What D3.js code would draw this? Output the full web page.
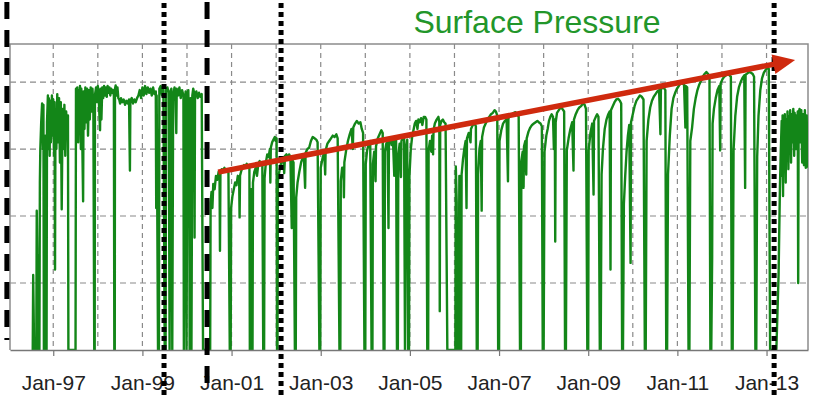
<!DOCTYPE html>
<html>
<head>
<meta charset="utf-8">
<script src="https://cdn.jsdelivr.net/npm/d3@7"></script>
<style>
  html, body { margin: 0; padding: 0; background: #fff; }
  svg { display: block; }
</style>
</head>
<body>
<svg id="chart" width="817" height="398"></svg>
<script>
// ---- data ----------------------------------------------------------------
const chartTitle = "Surface Pressure";

// labelled ticks on the time axis (decimal year -> label)
const tickYears  = [1997, 1999, 2001, 2003, 2005, 2007, 2009, 2011, 2013];
const tickLabels = ["Jan-97", "Jan-99", "Jan-01", "Jan-03", "Jan-05", "Jan-07", "Jan-09", "Jan-11", "Jan-13"];

// yearly vertical gridlines and pressure gridlines
const gridYears  = [1997, 1998, 1999, 2000, 2001, 2002, 2003, 2004, 2005, 2006, 2007, 2008, 2009, 2010, 2011, 2012, 2013];
const gridValues = [500, 1000, 1500, 2000];

// event markers (decimal years)
const dashedEvents = [1995.96, 2000.45];
const dottedEvents = [1999.485, 2002.11, 2013.17];

// build-up trend: start and end [year, pressure]
const trendLine = [[2000.70, 1328], [2013.64, 2164]];

// surface pressure record: [decimal year, pressure]
const surfacePressure = [
  // 1996 - 1997 start-up
  [1996.54,0],[1996.55,560],[1996.56,300],[1996.57,0],[1996.62,0],[1996.63,1040],[1996.64,760],[1996.645,0],
  [1996.66,710],[1996.67,450],[1996.68,0],[1996.69,0],[1996.70,1250],[1996.71,1500],[1996.73,1700],[1996.75,1840],
  [1996.76,1820],[1996.77,1500],[1996.78,1830],[1996.79,0],[1996.81,0],[1996.82,1600],[1996.83,0],[1996.85,0],
  [1996.86,1700],[1996.88,1900],[1996.89,1500],[1996.90,1880],[1996.92,1450],[1996.93,1860],[1996.95,1550],[1996.97,1900],
  [1996.99,1600],[1997.00,1870],[1997.02,1450],[1997.03,1850],[1997.04,600],[1997.05,1800],[1997.07,1500],[1997.09,1910],
  [1997.11,1550],[1997.13,1880],[1997.15,1400],[1997.17,1850],[1997.19,1050],[1997.21,1800],[1997.23,1500],[1997.25,1830],
  [1997.27,1450],[1997.29,1780],[1997.31,1600],[1997.33,1750],[1997.34,0],[1997.50,0],
  [1997.51,1950],[1997.53,1700],[1997.54,1960],[1997.56,1550],[1997.57,1940],[1997.59,1650],[1997.60,1970],[1997.62,1500],
  [1997.63,1950],[1997.65,1600],[1997.67,1110],[1997.68,1930],[1997.70,1650],[1997.72,1960],[1997.74,1700],[1997.76,1950],
  [1997.78,1600],[1997.80,1940],[1997.82,1720],[1997.84,1960],[1997.86,1780],[1997.88,1950],[1997.90,1800],[1997.92,0],
  [1997.93,0],[1997.935,1900],[1997.96,1960],[1997.98,1850],[1998.00,1970],[1998.02,1880],[1998.05,1640],[1998.06,1950],
  [1998.08,1720],[1998.10,1960],[1998.12,1880],[1998.14,1970],[1998.16,1900],[1998.18,1960],[1998.20,1890],[1998.22,1970],
  [1998.24,1920],[1998.26,1960],[1998.28,1900],[1998.30,1950],[1998.32,1920],[1998.34,1940],[1998.36,1900],[1998.37,0],
  [1998.38,0],[1998.385,1950],[1998.40,1975],[1998.42,1900],[1998.44,1960],[1998.46,1880],[1998.48,1870],[1998.50,1840],
  [1998.52,1880],[1998.55,1850],[1998.58,1870],[1998.61,1830],[1998.64,1860],[1998.67,1840],[1998.70,1870],[1998.72,1340],
  [1998.73,1860],[1998.76,1880],[1998.79,1840],[1998.82,1870],[1998.85,1850],[1998.88,1880],[1998.91,1900],[1998.94,1940],
  [1998.97,1880],[1999.00,1960],[1999.03,1900],[1999.06,1970],[1999.09,1910],[1999.12,1960],[1999.15,1920],[1999.18,1950],
  [1999.21,1900],[1999.24,1960],[1999.27,1910],[1999.30,1930],[1999.31,1060],[1999.32,1900],[1999.35,0],
  [1999.37,0],[1999.38,1950],[1999.41,1970],[1999.44,1900],[1999.47,1960],[1999.50,0],[1999.52,0],[1999.53,1940],
  [1999.56,1960],[1999.59,1920],[1999.61,0],[1999.63,1930],[1999.65,1950],[1999.67,0],[1999.69,1900],[1999.72,1960],
  [1999.74,1920],[1999.76,1620],[1999.77,1950],[1999.80,1900],[1999.83,1960],[1999.86,1880],[1999.89,1940],[1999.92,1900],
  [1999.93,0],[1999.95,1850],[1999.97,1930],[1999.99,0],[2000.01,1900],[2000.03,1940],[2000.05,1500],[2000.06,0],
  [2000.08,1880],[2000.10,0],[2000.12,1900],[2000.14,1950],[2000.16,1920],[2000.17,840],[2000.18,1900],[2000.21,1930],
  [2000.24,1880],[2000.27,1920],[2000.30,1890],[2000.33,1910],[2000.36,0],[2000.52,0],
  // 2000 - 2013 build-up cycles
  [2000.53,1100],[2000.55,1180],[2000.57,1060],[2000.59,1240],[2000.62,1200],[2000.65,1300],[2000.68,1270],[2000.71,1330],
  [2000.73,1310],[2000.74,740],[2000.75,1320],[2000.78,1350],[2000.81,1340],[2000.84,1360],[2000.87,1330],[2000.90,1350],
  [2000.93,1320],[2000.96,0],
  [2000.98,0],[2000.99,1060],[2001.02,1150],[2001.05,1200],[2001.08,1250],[2001.11,1230],[2001.14,1300],[2001.17,1280],
  [2001.18,990],[2001.19,1300],[2001.22,1340],[2001.25,1360],[2001.28,1380],[2001.31,1370],[2001.34,1390],[2001.37,1360],
  [2001.40,1380],[2001.41,0],
  [2001.43,0],[2001.44,1200],[2001.45,0],[2001.47,0],[2001.48,1250],[2001.51,1330],[2001.54,1360],[2001.57,1300],
  [2001.60,1390],[2001.63,1410],[2001.66,1380],[2001.69,1400],[2001.71,0],[2001.73,0],[2001.74,1280],[2001.77,1400],
  [2001.80,1460],[2001.83,1440],[2001.86,1500],[2001.87,1250],[2001.88,1510],[2001.91,1550],[2001.94,1570],[2001.97,1590],
  [2001.99,1560],[2002.01,1580],[2002.02,0],
  [2002.03,0],[2002.04,1260],[2002.07,1330],[2002.10,1380],[2002.13,1420],[2002.16,1440],[2002.18,1320],[2002.20,1450],
  [2002.23,1460],[2002.26,1430],[2002.29,1460],[2002.32,1440],[2002.35,910],[2002.36,1420],[2002.39,1400],[2002.42,0],
  [2002.44,0],[2002.45,1140],[2002.48,1250],[2002.52,1330],[2002.56,1400],[2002.59,1430],[2002.62,1460],[2002.65,1210],
  [2002.66,1470],[2002.70,1500],[2002.74,1510],[2002.78,1560],[2002.82,1590],[2002.86,1580],[2002.90,1570],[2002.93,1550],
  [2002.97,0],
  [2002.99,0],[2003.00,1360],[2003.04,1430],[2003.08,1480],[2003.10,1310],[2003.11,1490],[2003.15,1540],[2003.19,1560],
  [2003.23,1580],[2003.27,1600],[2003.31,1590],[2003.35,1610],[2003.38,1580],[2003.42,0],
  [2003.44,0],[2003.45,1260],[2003.48,1360],[2003.51,1360],[2003.52,1140],[2003.53,1400],[2003.57,1490],[2003.61,1560],
  [2003.65,1610],[2003.69,1650],[2003.72,1500],[2003.73,1660],[2003.77,1690],[2003.81,1710],[2003.85,1690],[2003.89,1700],
  [2003.92,1650],[2003.95,1620],[2003.98,0],
  [2004.00,0],[2004.01,1390],[2004.04,1490],[2004.08,1540],[2004.11,1560],[2004.14,0],[2004.16,0],[2004.17,1390],
  [2004.20,1480],[2004.23,1260],[2004.24,1520],[2004.28,1580],[2004.32,1610],[2004.36,1640],[2004.39,1620],[2004.41,0],
  [2004.43,0],[2004.44,1480],[2004.47,1540],[2004.50,1560],[2004.52,910],[2004.53,1550],[2004.56,1580],[2004.59,1530],
  [2004.62,1570],[2004.65,1300],[2004.66,1560],[2004.69,1590],[2004.71,0],[2004.73,0],[2004.74,1450],[2004.77,1540],
  [2004.80,1290],[2004.81,1560],[2004.84,1580],[2004.87,1590],[2004.89,0],[2004.91,1500],[2004.94,1570],[2004.96,0],
  [2004.98,0],[2004.99,1300],[2005.02,1500],[2005.05,1590],[2005.08,1640],[2005.11,1690],[2005.14,1710],[2005.17,1650],
  [2005.19,1720],[2005.22,1700],[2005.25,1730],[2005.28,1680],[2005.31,1740],[2005.34,1740],[2005.37,1720],[2005.39,0],
  [2005.41,0],[2005.42,1490],[2005.45,1560],[2005.48,1480],[2005.50,1600],[2005.52,1460],[2005.53,1640],[2005.56,1690],
  [2005.60,1720],[2005.64,1740],[2005.66,1700],[2005.67,290],[2005.68,1680],[2005.71,1710],[2005.74,1720],[2005.77,1700],
  [2005.80,1690],[2005.84,0],
  [2005.86,0],[2006.02,0],[2006.03,1370],[2006.05,1100],[2006.06,0],[2006.08,400],[2006.09,0],[2006.11,1300],
  [2006.12,1200],[2006.13,0],[2006.15,0],[2006.16,1310],[2006.19,1420],[2006.22,1500],[2006.25,1560],[2006.27,1060],
  [2006.28,1580],[2006.32,1620],[2006.36,1550],[2006.37,1650],[2006.41,1680],[2006.45,1690],[2006.48,1670],[2006.50,0],
  [2006.52,0],[2006.53,1310],[2006.56,1500],[2006.59,1560],[2006.61,1040],[2006.62,1590],[2006.66,1660],[2006.70,1690],
  [2006.74,1720],[2006.78,1740],[2006.82,1760],[2006.86,1770],[2006.90,1790],[2006.93,1780],[2006.96,1750],[2006.98,0],
  [2007.00,0],[2007.01,1560],[2007.05,1640],[2007.09,1690],[2007.13,1710],[2007.17,1720],[2007.20,1260],[2007.21,1730],
  [2007.25,1750],[2007.29,1760],[2007.33,1770],[2007.37,1775],[2007.41,1760],[2007.44,1740],[2007.47,0],
  [2007.49,0],[2007.50,1410],[2007.53,1480],[2007.55,1210],[2007.56,1520],[2007.59,1560],[2007.61,1310],[2007.62,1580],
  [2007.66,1630],[2007.70,1660],[2007.74,1680],[2007.78,1690],[2007.82,1700],[2007.86,1710],[2007.89,1700],[2007.93,1690],
  [2007.96,1670],[2007.98,0],
  [2008.00,0],[2008.02,1480],[2008.06,1600],[2008.09,1650],[2008.12,1710],[2008.15,1740],[2008.18,1760],[2008.21,1740],
  [2008.23,1500],[2008.25,1720],[2008.26,810],[2008.27,1700],[2008.30,1770],[2008.34,1790],[2008.38,1810],[2008.42,1800],
  [2008.46,1780],[2008.48,0],
  [2008.50,0],[2008.52,1490],[2008.56,1580],[2008.60,1650],[2008.64,1700],[2008.67,1340],[2008.68,1720],[2008.72,1760],
  [2008.76,1790],[2008.80,1810],[2008.84,1820],[2008.88,1840],[2008.92,1830],[2008.95,1800],[2008.98,0],
  [2009.00,0],[2009.01,1490],[2009.05,1620],[2009.09,1690],[2009.12,1160],[2009.13,1710],[2009.17,1740],[2009.20,1760],
  [2009.23,1740],[2009.26,0],
  [2009.28,0],[2009.30,1310],[2009.33,1500],[2009.37,1650],[2009.41,1720],[2009.45,1760],[2009.48,1780],[2009.50,600],
  [2009.51,1790],[2009.55,1820],[2009.59,1850],[2009.63,1870],[2009.67,1875],[2009.71,1860],[2009.74,1840],[2009.76,0],
  [2009.78,0],[2009.80,1090],[2009.83,1300],[2009.86,1480],[2009.89,1600],[2009.92,1680],[2009.95,650],[2009.96,1700],
  [2010.00,1760],[2010.04,1820],[2010.08,1860],[2010.12,1880],[2010.16,1900],[2010.20,1890],[2010.24,1870],[2010.27,0],
  [2010.29,0],[2010.31,1560],[2010.35,1720],[2010.39,1810],[2010.43,1860],[2010.47,1890],[2010.51,1910],[2010.55,1930],
  [2010.59,1940],[2010.62,1610],[2010.63,1945],[2010.67,1960],[2010.70,1955],[2010.73,1940],[2010.75,0],
  [2010.77,0],[2010.79,1310],[2010.83,1600],[2010.87,1800],[2010.91,1880],[2010.95,1920],[2010.99,1950],[2011.03,1970],
  [2011.07,1990],[2011.11,1990],[2011.15,1980],[2011.18,1660],[2011.19,1970],[2011.22,1960],[2011.25,0],
  [2011.27,0],[2011.29,1560],[2011.33,1660],[2011.37,1800],[2011.41,1880],[2011.45,1940],[2011.49,1980],[2011.53,2010],
  [2011.57,2040],[2011.61,2060],[2011.65,2075],[2011.69,2060],[2011.72,2040],[2011.74,0],
  [2011.76,0],[2011.78,690],[2011.79,1690],[2011.82,1800],[2011.86,1880],[2011.90,1940],[2011.94,1970],[2011.96,1490],
  [2011.97,1990],[2012.01,2020],[2012.05,2040],[2012.09,2050],[2012.13,2060],[2012.17,2050],[2012.20,2040],[2012.22,0],
  [2012.24,0],[2012.26,1490],[2012.30,1750],[2012.34,1890],[2012.38,1960],[2012.42,2000],[2012.46,2030],[2012.50,2050],
  [2012.52,1210],[2012.53,2055],[2012.57,2065],[2012.61,2075],[2012.65,2070],[2012.69,2060],[2012.72,2040],[2012.75,0],
  [2012.77,0],[2012.79,1440],[2012.82,1750],[2012.86,1940],[2012.90,2030],[2012.94,2070],[2012.98,2090],[2013.02,2110],
  [2013.05,2100],[2013.08,0],
  // 2013 restart
  [2013.10,0],[2013.22,0],[2013.27,560],[2013.30,1210],[2013.32,1490],[2013.34,1710],[2013.35,1300],[2013.36,1750],
  [2013.37,1150],[2013.38,1700],[2013.40,1400],[2013.41,1760],[2013.43,1250],[2013.44,1720],[2013.46,1450],[2013.47,1780],
  [2013.49,1350],[2013.50,1740],[2013.52,1500],[2013.53,1790],[2013.55,1400],[2013.56,1760],[2013.58,1550],[2013.60,1800],
  [2013.62,1450],[2013.63,1770],[2013.65,1500],[2013.66,1750],[2013.68,1500],[2013.70,1780],[2013.71,500],[2013.72,1760],
  [2013.74,1800],[2013.76,1550],[2013.78,1790],[2013.80,1400],[2013.82,1760],[2013.84,1380],[2013.86,1790],[2013.88,1360],
  [2013.90,1750],[2013.92,1360]
];

// ---- layout ----------------------------------------------------------------
const plot = { left: 10, right: 808, top: 44, bottom: 350 };
const svg = d3.select("#chart");
const font = "'Liberation Sans', Arial, Helvetica, sans-serif";

const x = d3.scaleLinear().domain([1996.03, 2013.93]).range([plot.left, plot.right]);
const y = d3.scaleLinear().domain([0, 2284]).range([plot.bottom, plot.top]);

svg.append("defs").append("clipPath").attr("id", "plot-clip")
  .append("rect")
  .attr("x", plot.left).attr("y", plot.top)
  .attr("width", plot.right - plot.left).attr("height", plot.bottom - plot.top + 1);

// gridlines
const grid = svg.append("g").attr("stroke", "#8a8a8a").attr("stroke-width", 1.2).attr("fill", "none");
grid.selectAll("line.h").data(gridValues).join("line")
  .attr("class", "h")
  .attr("x1", plot.left).attr("x2", plot.right)
  .attr("y1", d => y(d)).attr("y2", d => y(d))
  .attr("stroke-dasharray", "6,4");
grid.selectAll("line.v").data(gridYears).join("line")
  .attr("class", "v")
  .attr("x1", d => x(d)).attr("x2", d => x(d))
  .attr("y1", plot.top).attr("y2", plot.bottom)
  .attr("stroke-dasharray", "5,4");

// plot frame
svg.append("path")
  .attr("d", `M${plot.left},${plot.bottom}V${plot.top}H${plot.right}V${plot.bottom}`)
  .attr("fill", "none").attr("stroke", "#8c8c8c").attr("stroke-width", 1.5);

// pressure series
const line = d3.line().x(d => x(d[0])).y(d => y(d[1]));
svg.append("path")
  .datum(surfacePressure)
  .attr("clip-path", "url(#plot-clip)")
  .attr("d", line)
  .attr("fill", "none")
  .attr("stroke", "#138618")
  .attr("stroke-width", 2.4)
  .attr("stroke-linejoin", "round");

// time axis
const axis = svg.append("g")
  .attr("transform", `translate(0,${plot.bottom})`)
  .call(d3.axisBottom(x)
    .tickValues(tickYears)
    .tickFormat((d, i) => tickLabels[i])
    .tickSize(6)
    .tickSizeOuter(0)
    .tickPadding(19));
axis.select(".domain").attr("stroke", "#777").attr("stroke-width", 1.5);
axis.selectAll(".tick line").attr("stroke", "#777").attr("stroke-width", 1.2);
axis.selectAll(".tick text")
  .attr("fill", "#222")
  .style("font-family", font)
  .style("font-size", "21px");

// event markers
svg.append("g").selectAll("line").data(dashedEvents).join("line")
  .attr("x1", d => x(d)).attr("x2", d => x(d))
  .attr("y1", 2)
  .attr("y2", (d, i) => i === 0 ? 340 : 392)
  .attr("stroke", "#000").attr("stroke-width", 5)
  .attr("stroke-dasharray", "17,11");
svg.append("g").selectAll("line").data(dottedEvents).join("line")
  .attr("x1", d => x(d)).attr("x2", d => x(d))
  .attr("y1", 3).attr("y2", 398)
  .attr("stroke", "#000").attr("stroke-width", 5)
  .attr("stroke-dasharray", "5,4");

// trend arrow
const [p0, p1] = trendLine.map(d => [x(d[0]), y(d[1])]);
const ang = Math.atan2(p1[1] - p0[1], p1[0] - p0[0]);
const headLen = 22, headHalf = 10;
const base = [p1[0] - headLen * Math.cos(ang), p1[1] - headLen * Math.sin(ang)];
const nx = -Math.sin(ang), ny = Math.cos(ang);
svg.append("line")
  .attr("x1", p0[0]).attr("y1", p0[1])
  .attr("x2", base[0] + Math.cos(ang)).attr("y2", base[1] + Math.sin(ang))
  .attr("stroke", "#cf2a0e").attr("stroke-width", 5.5);
svg.append("polygon")
  .attr("points", [
    p1,
    [base[0] + nx * headHalf, base[1] + ny * headHalf],
    [base[0] - nx * headHalf, base[1] - ny * headHalf]
  ].map(p => p.join(",")).join(" "))
  .attr("fill", "#cf2a0e");

// title
svg.append("text")
  .attr("x", 537).attr("y", 33)
  .attr("text-anchor", "middle")
  .attr("fill", "#22962a")
  .style("font-family", font)
  .style("font-size", "32px")
  .text(chartTitle);
</script>
</body>
</html>
